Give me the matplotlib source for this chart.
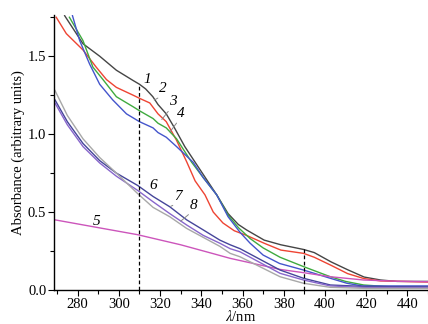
import matplotlib
matplotlib.use("Agg")
import matplotlib.pyplot as plt
from matplotlib.ticker import MultipleLocator

plt.rcParams['font.family'] = ['Liberation Serif', 'DejaVu Serif']
plt.rcParams['mathtext.fontset'] = 'stix'

# spectra: wavelength (nm) and absorbance
wl_1 = [273.7, 282.6, 290.7, 298.8, 306.8, 310, 313, 316.5, 319, 323, 327, 332, 337, 342,
        347.5, 353, 358, 362, 370.5, 378.6, 389.6, 394.8, 403, 411, 419, 427, 435, 450]
ab_1 = [1.76, 1.58, 1.50, 1.41, 1.345, 1.32, 1.29, 1.24, 1.19, 1.13, 1.04, 0.92, 0.82, 0.72,
        0.61, 0.49, 0.42, 0.385, 0.32, 0.29, 0.26, 0.24, 0.18, 0.13, 0.083, 0.064, 0.055, 0.055]

wl_2 = [269.6, 274.5, 282.6, 289, 294, 298.8, 306.9, 310, 315, 319, 323, 328, 333, 337, 341.8,
        345.8, 350.5, 356, 362, 370.5, 378.6, 389.6, 394.8, 403, 411, 419, 427, 450]
ab_2 = [1.75, 1.645, 1.54, 1.43, 1.35, 1.30, 1.25, 1.23, 1.20, 1.13, 1.08, 0.96, 0.82, 0.70, 0.61,
        0.50, 0.43, 0.38, 0.35, 0.30, 0.256, 0.235, 0.21, 0.158, 0.105, 0.073, 0.058, 0.051]

wl_3 = [276, 282.6, 287.4, 292.3, 298.8, 307, 310, 316.6, 319, 323, 328, 335.3, 341, 347.5, 353,
        358, 363.7, 370, 378.2, 389.6, 402.6, 410, 418.8, 435, 450]
ab_3 = [1.75, 1.60, 1.43, 1.35, 1.24, 1.175, 1.15, 1.10, 1.07, 1.04, 0.97, 0.82, 0.72, 0.61, 0.48,
        0.40, 0.33, 0.27, 0.21, 0.15, 0.085, 0.055, 0.032, 0.017, 0.011]

wl_4 = [277.5, 281, 285.8, 290.7, 297, 303.7, 310, 316.6, 319, 323, 328, 336, 341, 347.5, 353,
        358.8, 363.7, 370, 378, 389.6, 402.6, 410.7, 418, 450]
ab_4 = [1.76, 1.60, 1.45, 1.32, 1.22, 1.13, 1.08, 1.04, 1.01, 0.98, 0.92, 0.82, 0.72, 0.61, 0.47,
        0.37, 0.30, 0.224, 0.17, 0.128, 0.075, 0.043, 0.026, 0.026]

wl_5 = [269, 290, 309, 330, 345.8, 354, 378.2, 389.6, 402.6, 418.8, 435, 450]
ab_5 = [0.45, 0.40, 0.355, 0.29, 0.233, 0.203, 0.132, 0.111, 0.085, 0.064, 0.056, 0.053]

wl_6 = [269, 275, 282.6, 290.7, 298.8, 309.2, 316.6, 324.7, 332.9, 341, 349, 354, 358.8,
        378.2, 389.6, 402.6, 420, 450]
ab_6 = [1.22, 1.08, 0.94, 0.83, 0.75, 0.67, 0.60, 0.534, 0.45, 0.385, 0.32, 0.29, 0.265,
        0.128, 0.075, 0.032, 0.022, 0.02]

wl_7 = [269, 275, 282.6, 290.7, 298.8, 309, 316.6, 324.7, 332.9, 341, 349, 354, 358.8,
        378.2, 389.6, 402.6, 420, 450]
ab_7 = [1.20, 1.06, 0.92, 0.815, 0.73, 0.64, 0.566, 0.49, 0.417, 0.35, 0.30, 0.265, 0.245,
        0.107, 0.064, 0.026, 0.016, 0.015]

wl_8 = [269, 275, 282.6, 290.7, 298.8, 309, 316.6, 324.7, 332.9, 349, 354, 358.8, 378.2,
        389.6, 402.6, 420, 450]
ab_8 = [1.28, 1.12, 0.97, 0.85, 0.75, 0.62, 0.53, 0.47, 0.395, 0.28, 0.235, 0.213, 0.085,
        0.043, 0.017, 0.01, 0.01]

colors = ['#454545', '#ee4433', '#3faa3f', '#4455cc', '#cc55bb', '#45459a', '#8866cc', '#a8a8a8']
series = [(wl_1, ab_1), (wl_2, ab_2), (wl_3, ab_3), (wl_4, ab_4),
          (wl_5, ab_5), (wl_6, ab_6), (wl_7, ab_7), (wl_8, ab_8)]

fig = plt.figure(figsize=(4.28, 3.24), dpi=100)
ax = fig.add_axes([0.126, 0.105, 0.874, 0.849])

for (w, a), c in zip(series, colors):
    ax.plot(w, a, color=c, lw=1.0)

# dashed markers at 310 and 390 nm
ax.plot([310, 310], [0, 1.31], color='k', ls=(0, (3, 2)), lw=0.9)
ax.plot([390, 390], [0, 0.26], color='k', ls=(0, (3, 2)), lw=0.9)

# curve numbers
labels = [('1', 313.6, 1.35, None), ('2', 321.3, 1.29, (316, 1.21)),
          ('3', 326.0, 1.21, (320, 1.08)), ('4', 330.0, 1.135, (324, 1.0)),
          ('5', 289.2, 0.44, None), ('6', 316.5, 0.67, None),
          ('7', 328.6, 0.60, (324, 0.53)), ('8', 336.0, 0.545, (329, 0.43))]
for t, x, y, tip in labels:
    ax.text(x, y, t, fontsize=11, style='italic', ha='center', va='center')
    if tip is not None:
        ax.annotate('', xy=tip, xytext=(x - 1.2, y - 0.05),
                    arrowprops=dict(arrowstyle='-', color='#888888', lw=0.7))

ax.set_xlim(268.5, 450)
ax.set_ylim(0, 1.765)
ax.xaxis.set_major_locator(MultipleLocator(20))
ax.xaxis.set_minor_locator(MultipleLocator(10))
ax.yaxis.set_major_locator(MultipleLocator(0.5))
ax.yaxis.set_minor_locator(MultipleLocator(0.25))
ax.yaxis.set_major_formatter(plt.FuncFormatter(lambda v, p: f'{v:.1f}'))
ax.set_xticks([280, 300, 320, 340, 360, 380, 400, 420, 440])
ax.tick_params(which='major', direction='out', length=4, width=0.8, labelsize=10.5, pad=1.5)
ax.tick_params(which='minor', direction='out', length=3, width=0.8)

for s in ['top', 'right']:
    ax.spines[s].set_visible(False)
ax.spines['left'].set_linewidth(1.0)
ax.spines['bottom'].set_linewidth(1.0)

ax.set_ylabel('Absorbance (arbitrary units)', fontsize=10.5, labelpad=2)
ax.set_xlabel(r'$\lambda$/nm', fontsize=10.5, labelpad=-1)

fig.savefig('out.png', dpi=100)
